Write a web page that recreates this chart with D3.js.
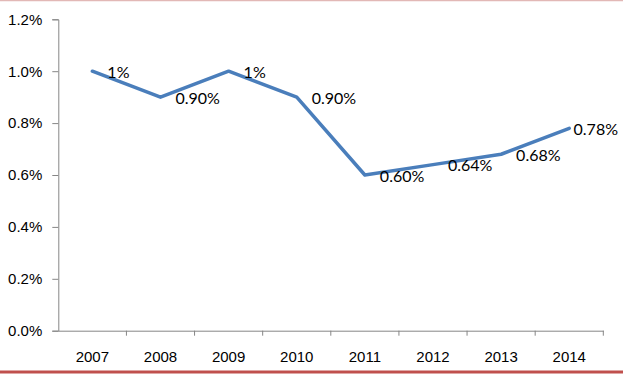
<!DOCTYPE html>
<html>
<head>
<meta charset="utf-8">
<script src="https://cdn.jsdelivr.net/npm/d3@7"></script>
<style>
  body { margin: 0; background: #fff; }
  svg { display: block; font-family: Lato, "Open Sans", sans-serif; }
</style>
</head>
<body>
<div id="chart-area"></div>
<script>
(function () {
  // Chart data (values in percent)
  const years = ["2007", "2008", "2009", "2010", "2011", "2012", "2013", "2014"];
  const rates = [1.0, 0.9, 1.0, 0.9, 0.6, 0.64, 0.68, 0.78];
  const rateLabels = ["1%", "0.90%", "1%", "0.90%", "0.60%", "0.64%", "0.68%", "0.78%"];
  const yTicks = [0, 0.2, 0.4, 0.6, 0.8, 1.0, 1.2];

  const width = 623;
  const height = 374;
  const margin = { top: 19.3, right: 19.7, bottom: 43.3, left: 58.3 };

  const svg = d3
    .select("#chart-area")
    .append("svg")
    .attr("width", width)
    .attr("height", height);

  // Frame lines (pale top rule, red bottom rule)
  svg.append("line")
    .attr("x1", 0).attr("x2", width)
    .attr("y1", 0.5).attr("y2", 0.5)
    .attr("stroke", "#e2b8b6")
    .attr("stroke-width", 1.5);
  svg.append("line")
    .attr("x1", 0).attr("x2", width)
    .attr("y1", 372).attr("y2", 372)
    .attr("stroke", "#c0504d")
    .attr("stroke-width", 3);

  const x = d3.scaleBand()
    .domain(years)
    .range([margin.left, width - margin.right]);

  const y = d3.scaleLinear()
    .domain([0, 1.2])
    .range([height - margin.bottom, margin.top]);

  const axisColor = "#868686";

  // Y axis
  const yAxis = svg.append("g")
    .attr("transform", `translate(${margin.left},0)`)
    .call(d3.axisLeft(y)
      .tickValues(yTicks)
      .tickSize(6)
      .tickPadding(10)
      .tickFormat(d => d.toFixed(1) + "%"));
  yAxis.select(".domain").attr("stroke", axisColor);
  yAxis.selectAll(".tick line").attr("stroke", axisColor);
  yAxis.selectAll("text")
    .attr("fill", "#000")
    .style("font-size", "15px");

  // X axis: labels centred in bands, ticks on band edges
  const xAxis = svg.append("g")
    .attr("transform", `translate(0,${y(0)})`)
    .call(d3.axisBottom(x).tickSize(0).tickPadding(21));
  xAxis.select(".domain").attr("stroke", axisColor);
  xAxis.selectAll("text")
    .attr("fill", "#000")
    .style("font-size", "15px");

  const edges = years.map(d => x(d) + x.bandwidth());
  xAxis.selectAll(".edge-tick")
    .data(edges)
    .join("line")
    .attr("class", "edge-tick")
    .attr("x1", d => d).attr("x2", d => d)
    .attr("y1", 0).attr("y2", 5)
    .attr("stroke", axisColor);

  const points = years.map((d, i) => ({
    x: x(d) + x.bandwidth() / 2,
    y: y(rates[i]),
    label: rateLabels[i]
  }));

  // Series line
  svg.append("path")
    .datum(points)
    .attr("fill", "none")
    .attr("stroke", "#4a7ebb")
    .attr("stroke-width", 3.5)
    .attr("stroke-linejoin", "round")
    .attr("stroke-linecap", "round")
    .attr("d", d3.line().x(d => d.x).y(d => d.y));

  // Data labels to the right of each point, kept inside the chart
  const labels = svg.selectAll(".data-label")
    .data(points)
    .join("text")
    .attr("class", "data-label")
    .attr("y", d => d.y + 1)
    .attr("dy", "0.35em")
    .attr("fill", "#000")
    .style("font-size", "16px")
    .text(d => d.label);

  labels.attr("x", function (d) {
    const w = this.getComputedTextLength();
    return Math.min(d.x + 15, width - 5 - w);
  });
})();
</script>
</body>
</html>
